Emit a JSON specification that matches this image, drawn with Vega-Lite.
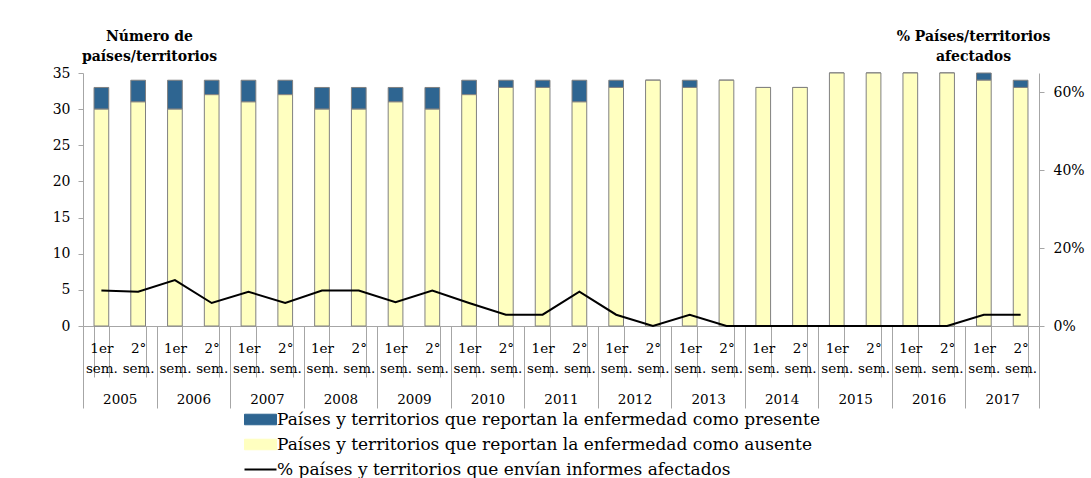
{
  "$schema": "https://vega.github.io/schema/vega-lite/v6.json",
  "width": 956,
  "height": 253,
  "autosize": {"type": "none"},
  "padding": {"left": 83, "top": 73, "right": 52, "bottom": 152},
  "background": "white",
  "config": {
    "font": "DejaVu Serif",
    "view": {"stroke": null},
    "axis": {
      "labelFont": "DejaVu Serif",
      "labelFontSize": 14,
      "labelColor": "#000000",
      "titleFont": "DejaVu Serif",
      "titleFontSize": 14,
      "titleFontWeight": "bold",
      "titleColor": "#000000",
      "domainColor": "#a6a6a6",
      "tickColor": "#a6a6a6",
      "grid": false
    },
    "legend": {"labelFont": "DejaVu Serif"}
  },
  "datasets": {
    "bars": [
      {"p": "2005-1", "series": "Países y territorios que reportan la enfermedad como presente", "n": 3},
      {"p": "2005-1", "series": "Países y territorios que reportan la enfermedad como ausente", "n": 30},
      {"p": "2005-2", "series": "Países y territorios que reportan la enfermedad como presente", "n": 3},
      {"p": "2005-2", "series": "Países y territorios que reportan la enfermedad como ausente", "n": 31},
      {"p": "2006-1", "series": "Países y territorios que reportan la enfermedad como presente", "n": 4},
      {"p": "2006-1", "series": "Países y territorios que reportan la enfermedad como ausente", "n": 30},
      {"p": "2006-2", "series": "Países y territorios que reportan la enfermedad como presente", "n": 2},
      {"p": "2006-2", "series": "Países y territorios que reportan la enfermedad como ausente", "n": 32},
      {"p": "2007-1", "series": "Países y territorios que reportan la enfermedad como presente", "n": 3},
      {"p": "2007-1", "series": "Países y territorios que reportan la enfermedad como ausente", "n": 31},
      {"p": "2007-2", "series": "Países y territorios que reportan la enfermedad como presente", "n": 2},
      {"p": "2007-2", "series": "Países y territorios que reportan la enfermedad como ausente", "n": 32},
      {"p": "2008-1", "series": "Países y territorios que reportan la enfermedad como presente", "n": 3},
      {"p": "2008-1", "series": "Países y territorios que reportan la enfermedad como ausente", "n": 30},
      {"p": "2008-2", "series": "Países y territorios que reportan la enfermedad como presente", "n": 3},
      {"p": "2008-2", "series": "Países y territorios que reportan la enfermedad como ausente", "n": 30},
      {"p": "2009-1", "series": "Países y territorios que reportan la enfermedad como presente", "n": 2},
      {"p": "2009-1", "series": "Países y territorios que reportan la enfermedad como ausente", "n": 31},
      {"p": "2009-2", "series": "Países y territorios que reportan la enfermedad como presente", "n": 3},
      {"p": "2009-2", "series": "Países y territorios que reportan la enfermedad como ausente", "n": 30},
      {"p": "2010-1", "series": "Países y territorios que reportan la enfermedad como presente", "n": 2},
      {"p": "2010-1", "series": "Países y territorios que reportan la enfermedad como ausente", "n": 32},
      {"p": "2010-2", "series": "Países y territorios que reportan la enfermedad como presente", "n": 1},
      {"p": "2010-2", "series": "Países y territorios que reportan la enfermedad como ausente", "n": 33},
      {"p": "2011-1", "series": "Países y territorios que reportan la enfermedad como presente", "n": 1},
      {"p": "2011-1", "series": "Países y territorios que reportan la enfermedad como ausente", "n": 33},
      {"p": "2011-2", "series": "Países y territorios que reportan la enfermedad como presente", "n": 3},
      {"p": "2011-2", "series": "Países y territorios que reportan la enfermedad como ausente", "n": 31},
      {"p": "2012-1", "series": "Países y territorios que reportan la enfermedad como presente", "n": 1},
      {"p": "2012-1", "series": "Países y territorios que reportan la enfermedad como ausente", "n": 33},
      {"p": "2012-2", "series": "Países y territorios que reportan la enfermedad como presente", "n": 0},
      {"p": "2012-2", "series": "Países y territorios que reportan la enfermedad como ausente", "n": 34},
      {"p": "2013-1", "series": "Países y territorios que reportan la enfermedad como presente", "n": 1},
      {"p": "2013-1", "series": "Países y territorios que reportan la enfermedad como ausente", "n": 33},
      {"p": "2013-2", "series": "Países y territorios que reportan la enfermedad como presente", "n": 0},
      {"p": "2013-2", "series": "Países y territorios que reportan la enfermedad como ausente", "n": 34},
      {"p": "2014-1", "series": "Países y territorios que reportan la enfermedad como presente", "n": 0},
      {"p": "2014-1", "series": "Países y territorios que reportan la enfermedad como ausente", "n": 33},
      {"p": "2014-2", "series": "Países y territorios que reportan la enfermedad como presente", "n": 0},
      {"p": "2014-2", "series": "Países y territorios que reportan la enfermedad como ausente", "n": 33},
      {"p": "2015-1", "series": "Países y territorios que reportan la enfermedad como presente", "n": 0},
      {"p": "2015-1", "series": "Países y territorios que reportan la enfermedad como ausente", "n": 35},
      {"p": "2015-2", "series": "Países y territorios que reportan la enfermedad como presente", "n": 0},
      {"p": "2015-2", "series": "Países y territorios que reportan la enfermedad como ausente", "n": 35},
      {"p": "2016-1", "series": "Países y territorios que reportan la enfermedad como presente", "n": 0},
      {"p": "2016-1", "series": "Países y territorios que reportan la enfermedad como ausente", "n": 35},
      {"p": "2016-2", "series": "Países y territorios que reportan la enfermedad como presente", "n": 0},
      {"p": "2016-2", "series": "Países y territorios que reportan la enfermedad como ausente", "n": 35},
      {"p": "2017-1", "series": "Países y territorios que reportan la enfermedad como presente", "n": 1},
      {"p": "2017-1", "series": "Países y territorios que reportan la enfermedad como ausente", "n": 34},
      {"p": "2017-2", "series": "Países y territorios que reportan la enfermedad como presente", "n": 1},
      {"p": "2017-2", "series": "Países y territorios que reportan la enfermedad como ausente", "n": 33}
    ],
    "pct": [
      {"p": "2005-1", "v": 0.091},
      {"p": "2005-2", "v": 0.088},
      {"p": "2006-1", "v": 0.118},
      {"p": "2006-2", "v": 0.059},
      {"p": "2007-1", "v": 0.088},
      {"p": "2007-2", "v": 0.059},
      {"p": "2008-1", "v": 0.091},
      {"p": "2008-2", "v": 0.091},
      {"p": "2009-1", "v": 0.061},
      {"p": "2009-2", "v": 0.091},
      {"p": "2010-1", "v": 0.059},
      {"p": "2010-2", "v": 0.029},
      {"p": "2011-1", "v": 0.029},
      {"p": "2011-2", "v": 0.088},
      {"p": "2012-1", "v": 0.029},
      {"p": "2012-2", "v": 0.0},
      {"p": "2013-1", "v": 0.029},
      {"p": "2013-2", "v": 0.0},
      {"p": "2014-1", "v": 0.0},
      {"p": "2014-2", "v": 0.0},
      {"p": "2015-1", "v": 0.0},
      {"p": "2015-2", "v": 0.0},
      {"p": "2016-1", "v": 0.0},
      {"p": "2016-2", "v": 0.0},
      {"p": "2017-1", "v": 0.029},
      {"p": "2017-2", "v": 0.029}
    ],
    "years": [
      {"year": "2005"}, {"year": "2006"}, {"year": "2007"}, {"year": "2008"},
      {"year": "2009"}, {"year": "2010"}, {"year": "2011"}, {"year": "2012"},
      {"year": "2013"}, {"year": "2014"}, {"year": "2015"}, {"year": "2016"},
      {"year": "2017"}
    ]
  },
  "layer": [
    {
      "data": {"name": "bars"},
      "mark": {"type": "bar", "stroke": "#808080", "strokeWidth": 1},
      "encoding": {
        "x": {
          "field": "p",
          "type": "nominal",
          "sort": null,
          "scale": {"paddingInner": 0.6, "paddingOuter": 0.3},
          "axis": {
            "title": null,
            "labelAngle": 0,
            "labelFontSize": 13.5,
            "labelExpr": "isValid(datum.value) && length(datum.label) > 0 ? (substring(datum.value, 5, 6) == '1' ? ['1er', 'sem.'] : ['2°', 'sem.']) : ''",
            "labelBaseline": "top",
            "labelLineHeight": 20,
            "labelPadding": -36,
            "labelOverlap": false,
            "labelBound": false,
            "tickBand": "extent",
            "tickSize": 51
          }
        },
        "y": {
          "field": "n",
          "type": "quantitative",
          "stack": "zero",
          "scale": {"domain": [0, 35], "nice": false},
          "axis": {
            "values": [0, 5, 10, 15, 20, 25, 30, 35],
            "tickSize": 5,
            "labelPadding": 8,
            "title": ["Número de", "países/territorios"],
            "titleAngle": 0,
            "titleAlign": "center",
            "titleBaseline": "alphabetic",
            "titleLineHeight": 20,
            "titleX": 66,
            "titleY": -33
          }
        },
        "color": {
          "field": "series",
          "type": "nominal",
          "scale": {
            "domain": [
              "Países y territorios que reportan la enfermedad como presente",
              "Países y territorios que reportan la enfermedad como ausente",
              "% países y territorios que envían informes afectados"
            ],
            "range": ["#2e6591", "#ffffc0", "#000000"]
          },
          "legend": {
            "orient": "none",
            "legendX": 169,
            "legendY": 338,
            "direction": "vertical",
            "title": null,
            "labelFont": "DejaVu Serif",
            "labelFontSize": 17,
            "labelColor": "#000000",
            "labelLimit": 0,
            "labelOffset": 8,
            "rowPadding": 7,
            "symbolSize": 1024,
            "symbolType": "M-1,-0.33H1V0.33H-1Z",
            "symbolStrokeWidth": 1,
            "symbolStrokeColor": "#808080",
            "encode": {
              "symbols": {
                "update": {
                  "shape": {"signal": "datum.index === 2 ? 'stroke' : 'M-1,-0.33H1V0.33H-1Z'"},
                  "stroke": {"signal": "datum.index === 2 ? '#000000' : '#808080'"},
                  "strokeWidth": {"signal": "datum.index === 2 ? 2 : 1"}
                }
              }
            }
          }
        },
        "order": {"field": "series", "sort": "ascending"}
      }
    },
    {
      "data": {"name": "pct"},
      "mark": {"type": "line", "strokeWidth": 2},
      "encoding": {
        "x": {
          "field": "p",
          "type": "nominal",
          "sort": null,
          "scale": {"type": "point", "padding": 0.5},
          "axis": null
        },
        "y": {
          "field": "v",
          "type": "quantitative",
          "scale": {"domain": [0, 0.65], "nice": false},
          "axis": {
            "orient": "right",
            "format": ".0%",
            "values": [0, 0.2, 0.4, 0.6],
            "tickSize": 5,
            "labelPadding": 9,
            "title": ["% Países/territorios", "afectados"],
            "titleAngle": 0,
            "titleAlign": "center",
            "titleBaseline": "alphabetic",
            "titleLineHeight": 20,
            "titleX": -66,
            "titleY": -33
          }
        },
        "color": {"datum": "% países y territorios que envían informes afectados"}
      }
    },
    {
      "data": {"name": "years"},
      "mark": {"type": "point", "opacity": 0},
      "encoding": {
        "x": {
          "field": "year",
          "type": "nominal",
          "scale": {"type": "band", "paddingInner": 0, "paddingOuter": 0},
          "axis": {
            "orient": "bottom",
            "title": null,
            "domain": false,
            "labelAngle": 0,
            "labelFontSize": 13.5,
            "labelBaseline": "top",
            "labelPadding": -16,
            "tickBand": "extent",
            "tickSize": 82
          }
        }
      }
    }
  ],
  "resolve": {"scale": {"x": "independent", "y": "independent"}}
}
